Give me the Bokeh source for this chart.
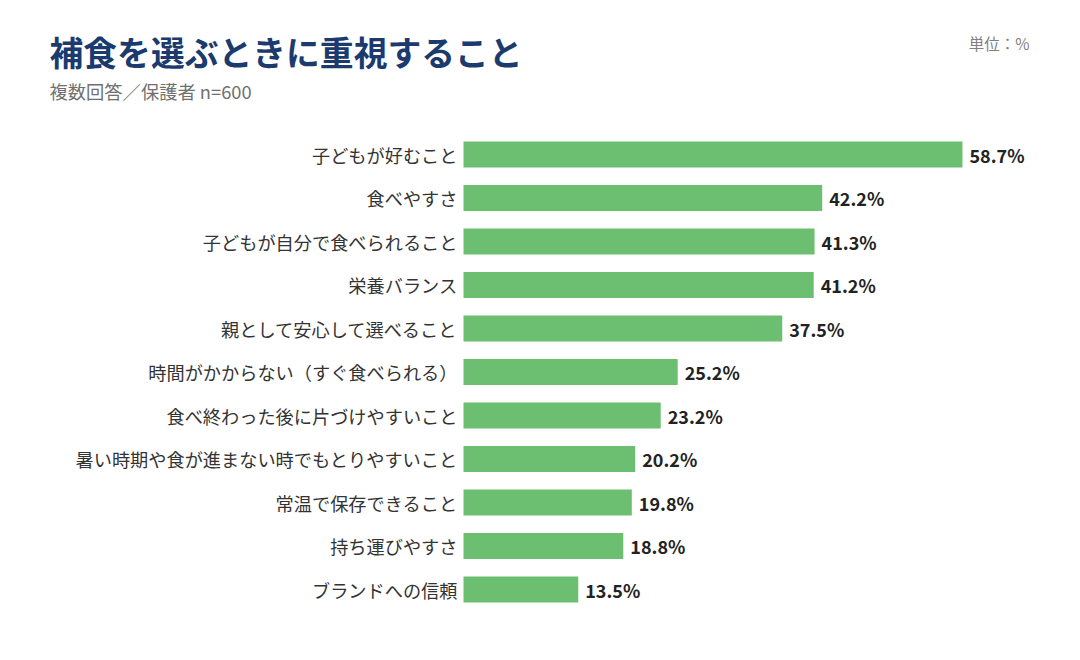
from bokeh.plotting import figure
from bokeh.models import ColumnDataSource, Range1d
from bokeh.core.properties import value
from bokeh.embed import file_html
from bokeh.resources import INLINE

categories = [
    "子どもが好むこと",
    "食べやすさ",
    "子どもが自分で食べられること",
    "栄養バランス",
    "親として安心して選べること",
    "時間がかからない（すぐ食べられる）",
    "食べ終わった後に片づけやすいこと",
    "暑い時期や食が進まない時でもとりやすいこと",
    "常温で保存できること",
    "持ち運びやすさ",
    "ブランドへの信頼",
]
values = [58.7, 42.2, 41.3, 41.2, 37.5, 25.2, 23.2, 20.2, 19.8, 18.8, 13.5]
value_labels = [f"{v:.1f}%" for v in values]
rank = list(range(len(categories)))

title_text = "補食を選ぶときに重視すること"
subtitle_text = "複数回答／保護者 n=600"
unit_text = "単位：%"

JP = "Noto Sans CJK JP"

source = ColumnDataSource(dict(cat=categories, val=values, lab=value_labels, pos=rank))

# whole canvas is the plotting frame; 1 % = 8.5 px, 1 row = 43.5 px
p = figure(
    width=1064, height=644,
    x_range=Range1d(-463 / 8.5, (1064 - 463) / 8.5),
    y_range=Range1d((644 - 154) / 43.5, -154 / 43.5),
    x_axis_location=None, y_axis_location=None,
    output_backend="svg", toolbar_location=None,
    min_border=0,
    background_fill_color="white", border_fill_color="white",
)
p.outline_line_color = None
p.xgrid.visible = False
p.ygrid.visible = False

p.hbar(y="pos", right="val", left=0, height=0.6, source=source,
       fill_color="#6cbf70", line_color=None)

p.text(x="val", y="pos", text="lab", source=source, x_offset=7,
       text_baseline="middle", text_align="left",
       text_font=value(JP), text_font_style="bold", text_font_size="18px",
       text_color="#222222")

p.text(x=0, y="pos", text="cat", source=source, x_offset=-6,
       text_baseline="middle", text_align="right",
       text_font=value(JP), text_font_size="18.2px", text_color="#333333")

def row_at(page_y):
    return (page_y - 1 - 154) / 43.5

def x_at(page_x):
    return (page_x - 1 - 463) / 8.5

p.text(x=[x_at(50)], y=[row_at(52)], text=[title_text],
       text_baseline="middle", text_align="left",
       text_font=value(JP), text_font_style="bold", text_font_size="33.8px",
       text_color="#1b3a6d")
p.text(x=[x_at(50)], y=[row_at(91)], text=[subtitle_text],
       text_baseline="middle", text_align="left",
       text_font=value(JP), text_font_size="18.3px", text_color="#707070")
p.text(x=[x_at(1030)], y=[row_at(43)], text=[unit_text],
       text_baseline="middle", text_align="right",
       text_font=value(JP), text_font_size="15.5px", text_color="#808080")

open("out.html", "w").write(file_html(p, INLINE))
